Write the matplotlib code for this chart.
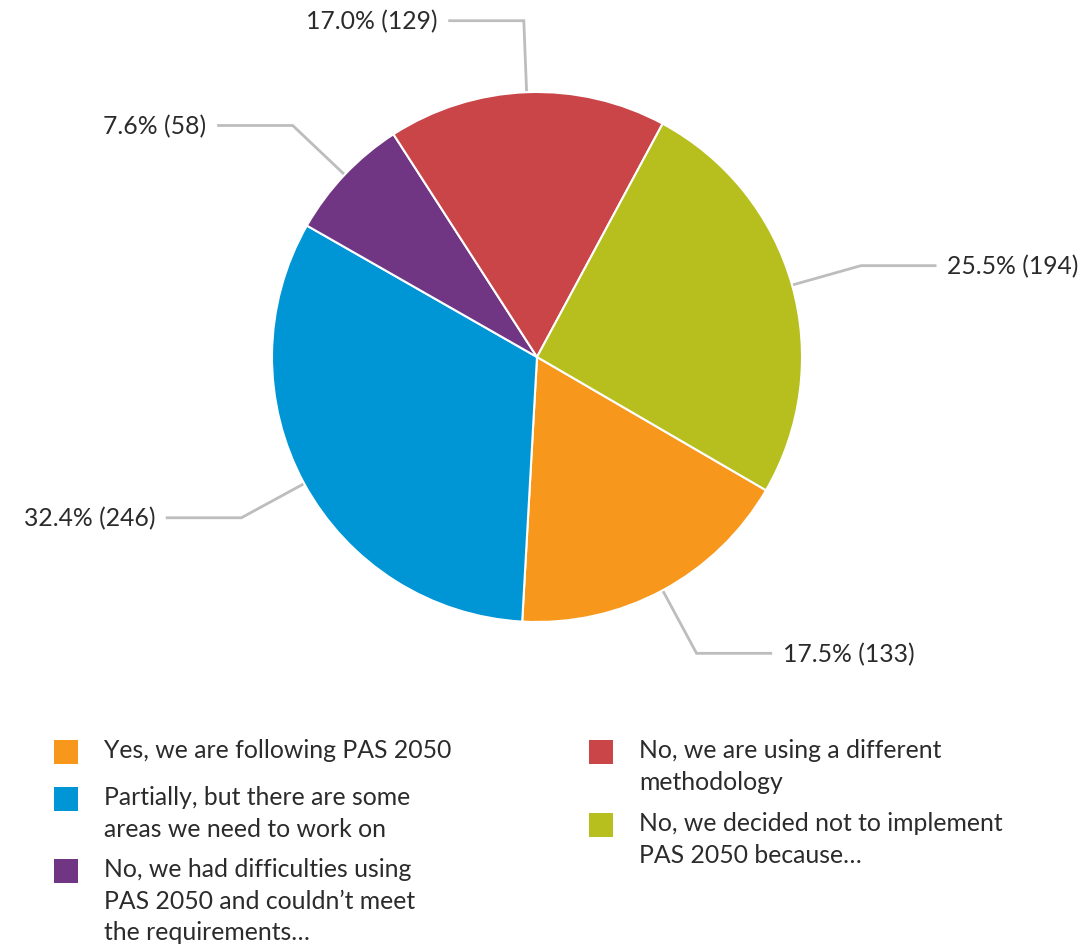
import numpy as np
import matplotlib
matplotlib.use("Agg")
import matplotlib.pyplot as plt
from matplotlib.patches import Rectangle

plt.rcParams['font.family'] = ['Lato', 'DejaVu Sans']

# Survey responses
categories = [
    "Yes, we are following PAS 2050",
    "Partially, but there are some\nareas we need to work on",
    "No, we had difficulties using\nPAS 2050 and couldn\u2019t meet\nthe requirements\u2026",
    "No, we are using a different\nmethodology",
    "No, we decided not to implement\nPAS 2050 because\u2026",
]
counts = [133, 246, 58, 129, 194]
colors = ["#F7981D", "#0096D6", "#703684", "#C94548", "#B7BF1E"]

TEXT = "#2B2B2B"
LEADER = "#BDBDBD"
FS = 17.8

W, H = 1091, 949
fig = plt.figure(figsize=(W / 100, H / 100), dpi=100)
ax = fig.add_axes([0, 0, 1, 1])

cx, cy, R = 537, H - 357, 265
start = -30.2

wedges, _ = ax.pie(counts, colors=colors, startangle=start, counterclock=False,
                   center=(cx, cy), radius=R, frame=True,
                   wedgeprops=dict(edgecolor="white", linewidth=1.5))
ax.set_xlim(0, W)
ax.set_ylim(0, H)
ax.axis("off")

total = sum(counts)
for w, n in zip(wedges, counts):
    mid = np.deg2rad((w.theta1 + w.theta2) / 2)
    ux, uy = np.cos(mid), np.sin(mid)
    p0 = (cx + R * ux, cy + R * uy)
    p1 = (cx + 1.27 * R * ux, cy + 1.27 * R * uy)
    side = 1 if ux >= 0 else -1
    p2 = (p1[0] + side * 0.28 * R, p1[1])
    ax.plot([p0[0], p1[0], p2[0]], [p0[1], p1[1], p2[1]], color=LEADER,
            lw=2, solid_joinstyle="miter", zorder=0)
    ax.text(p2[0] + side * 0.045 * R, p2[1] - 1, f"{100 * n / total:.1f}% ({n})",
            ha="left" if side > 0 else "right", va="center",
            fontsize=FS, color=TEXT)

# Legend, two columns
col_x = [54, 589]
sq_tops = [[740, 787, 859], [740, 813]]
groups = [[0, 1, 2], [3, 4]]
for cidx, items in enumerate(groups):
    for top, i in zip(sq_tops[cidx], items):
        ax.add_patch(Rectangle((col_x[cidx], H - top - 24), 24, 24,
                               color=colors[i], lw=0))
        ax.text(col_x[cidx] + 50, H - top + 1, categories[i], ha="left", va="top",
                fontsize=FS, color=TEXT, linespacing=1.46)

fig.savefig("out.png", dpi=100)
